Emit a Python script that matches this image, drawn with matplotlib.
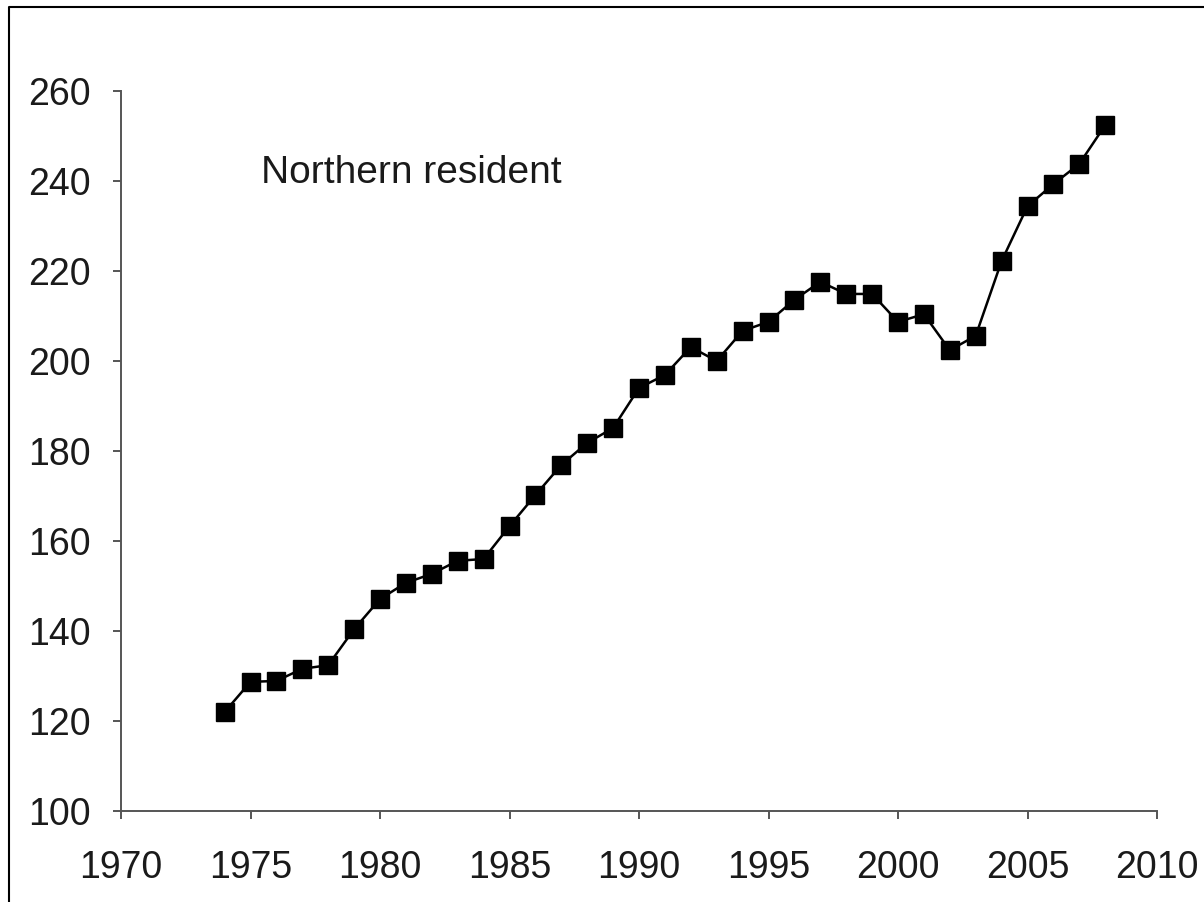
import matplotlib.pyplot as plt
from matplotlib.lines import Line2D

years = list(range(1974, 2009))
counts = [122, 128.7, 128.9, 131.6, 132.4, 140.4, 147.1, 150.7, 152.7, 155.6,
          156, 163.3, 170.2, 176.9, 181.8, 185.1, 194, 196.9, 203.1, 200,
          206.7, 208.7, 213.6, 217.6, 214.9, 214.9, 208.7, 210.4, 202.4, 205.6,
          222.2, 234.4, 239.3, 243.8, 252.4]
xticks = [1970, 1975, 1980, 1985, 1990, 1995, 2000, 2005, 2010]
yticks = [100, 120, 140, 160, 180, 200, 220, 240, 260]

plt.rcParams['font.family'] = ['Liberation Sans', 'DejaVu Sans']

fig = plt.figure(figsize=(12.04, 9.02), dpi=100)
ax = fig.add_axes([121/1204, 1 - 811/902, (1157-121)/1204, (811-91)/902])

ax.plot(years, counts, color='black', lw=1.8, marker='s', markersize=13)
ax.text(1975.4, 241.8, 'Northern resident', fontsize=28, va='center', color='#1a1a1a')

ax.set_xlim(1970, 2010)
ax.set_ylim(100, 260)
ax.set_xticks(xticks)
ax.set_yticks(yticks)
for s in ['top', 'right']:
    ax.spines[s].set_visible(False)
for s in ['left', 'bottom']:
    ax.spines[s].set_color('#555555')
    ax.spines[s].set_linewidth(1.4)
ax.tick_params(axis='both', labelsize=27, length=6, width=1.4, color='#555555', labelcolor='#1a1a1a')
ax.tick_params(axis='x', pad=22)
ax.tick_params(axis='y', pad=16)

# frame of the original image
fig.add_artist(Line2D([9/1204, 9/1204, 1], [0, 1 - 7/902, 1 - 7/902],
                      transform=fig.transFigure, color='black', lw=1.5))

fig.savefig('out.png', dpi=100)
